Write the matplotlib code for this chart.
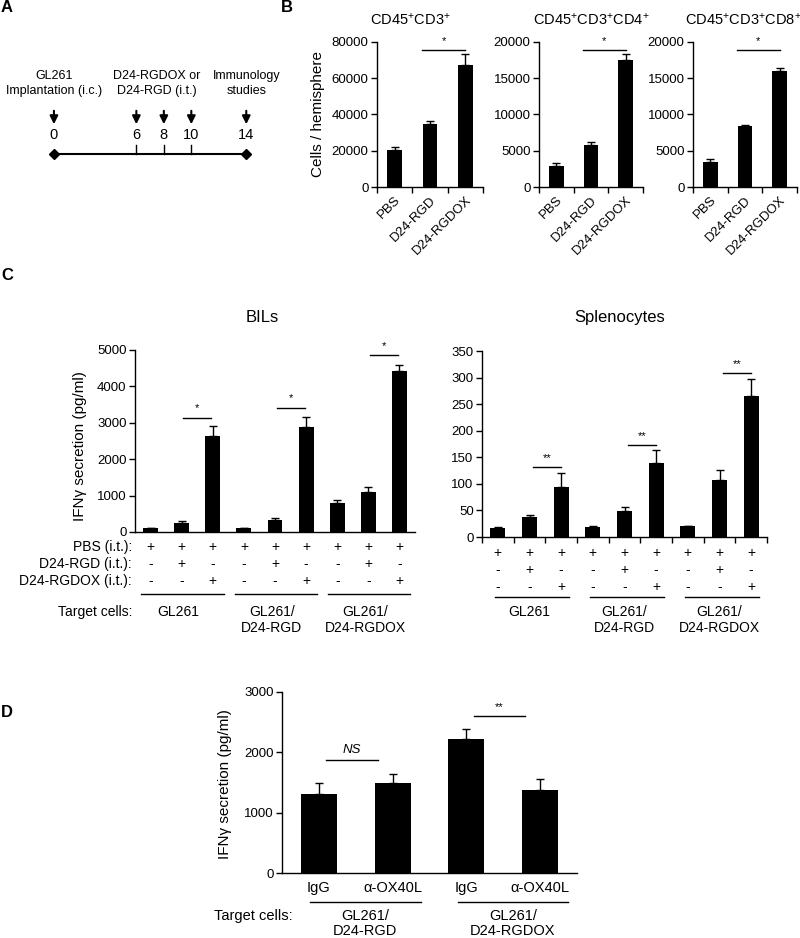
import matplotlib
matplotlib.use("Agg")
import matplotlib.pyplot as plt
import matplotlib.transforms as mtransforms
import numpy as np

plt.rcParams['font.family'] = ['Liberation Sans', 'DejaVu Sans']
plt.rcParams['font.size'] = 9.5
plt.rcParams['axes.linewidth'] = 1.0
plt.rcParams['mathtext.fontset'] = 'custom'
plt.rcParams['mathtext.rm'] = 'Liberation Sans'
plt.rcParams['mathtext.default'] = 'rm'

W, H = 800, 938

# ---- data ----
# A: timeline
timeline_days = [0, 6, 8, 10, 14]
timeline_notes = {0: "GL261\nImplantation (i.c.)", 7.5: "D24-RGDOX or\nD24-RGD (i.t.)", 14: "Immunology\nstudies"}

# B: cells / hemisphere
b_groups = ["PBS", "D24-RGD", "D24-RGDOX"]
b_titles = [r"CD45$^{+}$CD3$^{+}$", r"CD45$^{+}$CD3$^{+}$CD4$^{+}$", r"CD45$^{+}$CD3$^{+}$CD8$^{+}$"]
b_cd3 = [20500, 34500, 67500]
b_cd3_err = [1300, 2000, 6000]
b_cd4 = [2900, 5800, 17500]
b_cd4_err = [350, 350, 800]
b_cd8 = [3400, 8400, 16000]
b_cd8_err = [500, 200, 400]
b_ymax = [80000, 20000, 20000]
b_ystep = [20000, 5000, 5000]
b_sig_y = [75600, 18900, 18900]

# C: IFNg secretion
c_rows = ["PBS (i.t.):", "D24-RGD (i.t.):", "D24-RGDOX (i.t.):"]
c_pbs = ['+'] * 9
c_rgd = ['-', '+', '-'] * 3
c_rgdox = ['-', '-', '+'] * 3
c_targets = ["GL261", "GL261/\nD24-RGD", "GL261/\nD24-RGDOX"]
c_bil = [100, 260, 2630, 100, 330, 2880, 790, 1110, 4430]
c_bil_err = [20, 50, 270, 15, 50, 270, 100, 140, 150]
c_bil_sig = [(1, 2, 3140, "*"), (4, 5, 3415, "*"), (7, 8, 4860, "*")]
c_spl = [17, 38, 94, 19, 48, 140, 20, 107, 265]
c_spl_err = [2, 3, 27, 2, 8, 23, 1, 20, 32]
c_spl_sig = [(1, 2, 132, "**"), (4, 5, 173, "**"), (7, 8, 309, "**")]

# D: OX40L blocking
d_labels = ["IgG", "α-OX40L", "IgG", "α-OX40L"]
d_targets = ["GL261/\nD24-RGD", "GL261/\nD24-RGDOX"]
d_vals = [1310, 1500, 2220, 1380]
d_err = [180, 140, 170, 180]
d_sig = [(0, 1, 1870, "NS"), (2, 3, 2600, "**")]

fig = plt.figure(figsize=(W / 100, H / 100), dpi=100)

FS_TICK = 9.5
FS_LAB = 10
FS_YLAB = 11
FS_TITLE = 10.5


def add_ax(l, t, r, b):
    return fig.add_axes([l / W, 1 - b / H, (r - l) / W, (b - t) / H])


def fy(y):
    return 1 - y / H


def fx(x):
    return x / W


def bars(ax, vals, errs, width):
    x = np.arange(len(vals))
    ax.bar(x, vals, width, color='black')
    ax.errorbar(x, vals, yerr=[np.zeros(len(vals)), errs], fmt='none',
                ecolor='black', elinewidth=1, capsize=3, capthick=1)
    ax.set_xlim(-0.5, len(vals) - 0.5)
    ax.spines['top'].set_visible(False)
    ax.spines['right'].set_visible(False)
    ax.tick_params(axis='y', direction='out', length=4, width=1, labelsize=FS_TICK, pad=2)


def sig(ax, x0, x1, y, s, fs=8, style='normal'):
    ax.plot([x0, x1], [y, y], color='black', lw=1, clip_on=False)
    ax.annotate(s, ((x0 + x1) / 2, y), xytext=(0, 3), textcoords='offset points',
                ha='center', va='bottom', fontsize=fs, style=style)


def letter(x, y, s):
    fig.text(fx(x), fy(y), s, fontsize=12, fontweight='bold', ha='left', va='center')


# ---------- A ----------
letter(1, 8, "A")
axA = add_ax(40.2, 60, 260, 170)
axA.set_xlim(-1, 15)
axA.set_ylim(170, 60)
axA.axis('off')
axA.plot([timeline_days[0], timeline_days[-1]], [154, 154], color='black', lw=1.5)
axA.plot([timeline_days[0], timeline_days[-1]], [154, 154], 'D', color='black', ms=5)
for d in timeline_days:
    if d not in (timeline_days[0], timeline_days[-1]):
        axA.plot([d, d], [145, 154], color='black', lw=1)
    axA.text(d, 135, str(d), ha='center', va='center', fontsize=10.5)
    axA.annotate('', xy=(d, 127), xytext=(d, 108),
                 arrowprops=dict(arrowstyle='-|>', color='black', lw=1.5, mutation_scale=12))
for d, note in timeline_notes.items():
    for k, line in enumerate(note.split('\n')):
        axA.text(d, 76 + 15 * k, line, ha='center', va='center', fontsize=9, clip_on=False)

# ---------- B ----------
letter(281, 8, "B")
b_vals = [(b_cd3, b_cd3_err), (b_cd4, b_cd4_err), (b_cd8, b_cd8_err)]
b_pos = [(377, 483), (539, 643), (693, 797)]
b_title_x = [410, 591, 743]
for i, ((vals, errs), (l, r)) in enumerate(zip(b_vals, b_pos)):
    ax = add_ax(l, 42, r, 187)
    bars(ax, vals, errs, 0.42)
    ax.set_ylim(0, b_ymax[i])
    ax.set_yticks(np.arange(0, b_ymax[i] + 1, b_ystep[i]))
    ax.set_xticks(range(3))
    ax.set_xticklabels(b_groups, rotation=45, ha='right', rotation_mode='anchor', fontsize=FS_TICK)
    ax.tick_params(axis='x', which='major', length=0, pad=5)
    ax.set_xticks(np.arange(-0.5, 3), minor=True)
    ax.tick_params(axis='x', which='minor', direction='out', length=4, width=1)
    sig(ax, 0.77, 2.0, b_sig_y[i], "*")
    fig.text(fx(b_title_x[i]), fy(20), b_titles[i], ha='center', va='center', fontsize=FS_TITLE)
fig.text(fx(318), fy(114), "Cells / hemisphere", rotation=90, ha='center', va='center', fontsize=FS_YLAB)

# ---------- C ----------
letter(1, 276, "C")


def plusminus(ax, row_y, line_y, line_span, label_x):
    tr = mtransforms.blended_transform_factory(ax.transData, fig.transFigure)
    for row, y in zip([c_pbs, c_rgd, c_rgdox], row_y):
        for j, s in enumerate(row):
            ax.text(j, fy(y), s, transform=tr, ha='center', va='center', fontsize=FS_LAB)
    for g, tgt in enumerate(c_targets):
        ax.plot([g * 3 + line_span[0], g * 3 + line_span[1]], [fy(line_y)] * 2, transform=tr,
                color='black', lw=1, clip_on=False)
        for k, line in enumerate(tgt.split('\n')):
            ax.text(g * 3 + label_x, fy(612 + 16 * k), line, transform=tr,
                    ha='center', va='center', fontsize=FS_LAB)


axC1 = add_ax(135, 350, 415, 532)
bars(axC1, c_bil, c_bil_err, 0.48)
axC1.set_ylim(0, 5000)
axC1.set_yticks(np.arange(0, 5001, 1000))
axC1.set_xticks([])
for x0, x1, y, s in c_bil_sig:
    sig(axC1, x0 + 0.05, x1 - 0.05, y, s)
plusminus(axC1, [547, 564, 581], 594, (-0.3, 2.35), 0.9)
for k, lab in enumerate(c_rows):
    fig.text(fx(132), fy(547 + 17 * k), lab, ha='right', va='center', fontsize=FS_LAB)
fig.text(fx(132), fy(612), "Target cells:", ha='right', va='center', fontsize=FS_LAB)
fig.text(fx(262), fy(317), "BILs", ha='center', va='center', fontsize=12)
fig.text(fx(80), fy(446), "IFNγ secretion (pg/ml)", rotation=90, ha='center', va='center', fontsize=FS_YLAB)

axC2 = add_ax(482, 351, 767, 537)
bars(axC2, c_spl, c_spl_err, 0.48)
axC2.set_ylim(0, 350)
axC2.set_yticks(np.arange(0, 351, 50))
axC2.set_xticks([])
axC2.set_xticks(np.arange(-0.5, 9), minor=True)
axC2.tick_params(axis='x', which='minor', direction='out', length=4, width=1)
for x0, x1, y, s in c_spl_sig:
    sig(axC2, x0 + 0.1, x1, y, s)
plusminus(axC2, [553, 570, 587], 597, (-0.08, 2.25), 1.0)
fig.text(fx(620), fy(317), "Splenocytes", ha='center', va='center', fontsize=12)

# ---------- D ----------
letter(1, 712, "D")
axD = add_ax(282, 692, 577, 873)
bars(axD, d_vals, d_err, 0.49)
axD.set_ylim(0, 3000)
axD.set_yticks(np.arange(0, 3001, 1000))
axD.set_xticks(range(4))
axD.set_xticklabels(d_labels, fontsize=10.5)
axD.tick_params(axis='x', length=0, pad=6)
for x0, x1, y, s in d_sig:
    if s == "NS":
        sig(axD, x0 + 0.1, x1 - 0.2, y, s, fs=9.5, style='italic')
    else:
        sig(axD, x0 + 0.1, x1 - 0.2, y, s)
trD = mtransforms.blended_transform_factory(axD.transData, fig.transFigure)
for g, tgt in enumerate(d_targets):
    axD.plot([g * 2 - 0.12, g * 2 + 1.38], [fy(902)] * 2, transform=trD, color='black', lw=1, clip_on=False)
    for k, line in enumerate(tgt.split('\n')):
        axD.text(g * 2 + 0.63, fy(916 + 15 * k), line, transform=trD, ha='center', va='center', fontsize=10.5)
fig.text(fx(293), fy(916), "Target cells:", ha='right', va='center', fontsize=10.5)
fig.text(fx(225), fy(784), "IFNγ secretion (pg/ml)", rotation=90, ha='center', va='center', fontsize=FS_YLAB)

fig.savefig("out.png", dpi=100, facecolor='white')
